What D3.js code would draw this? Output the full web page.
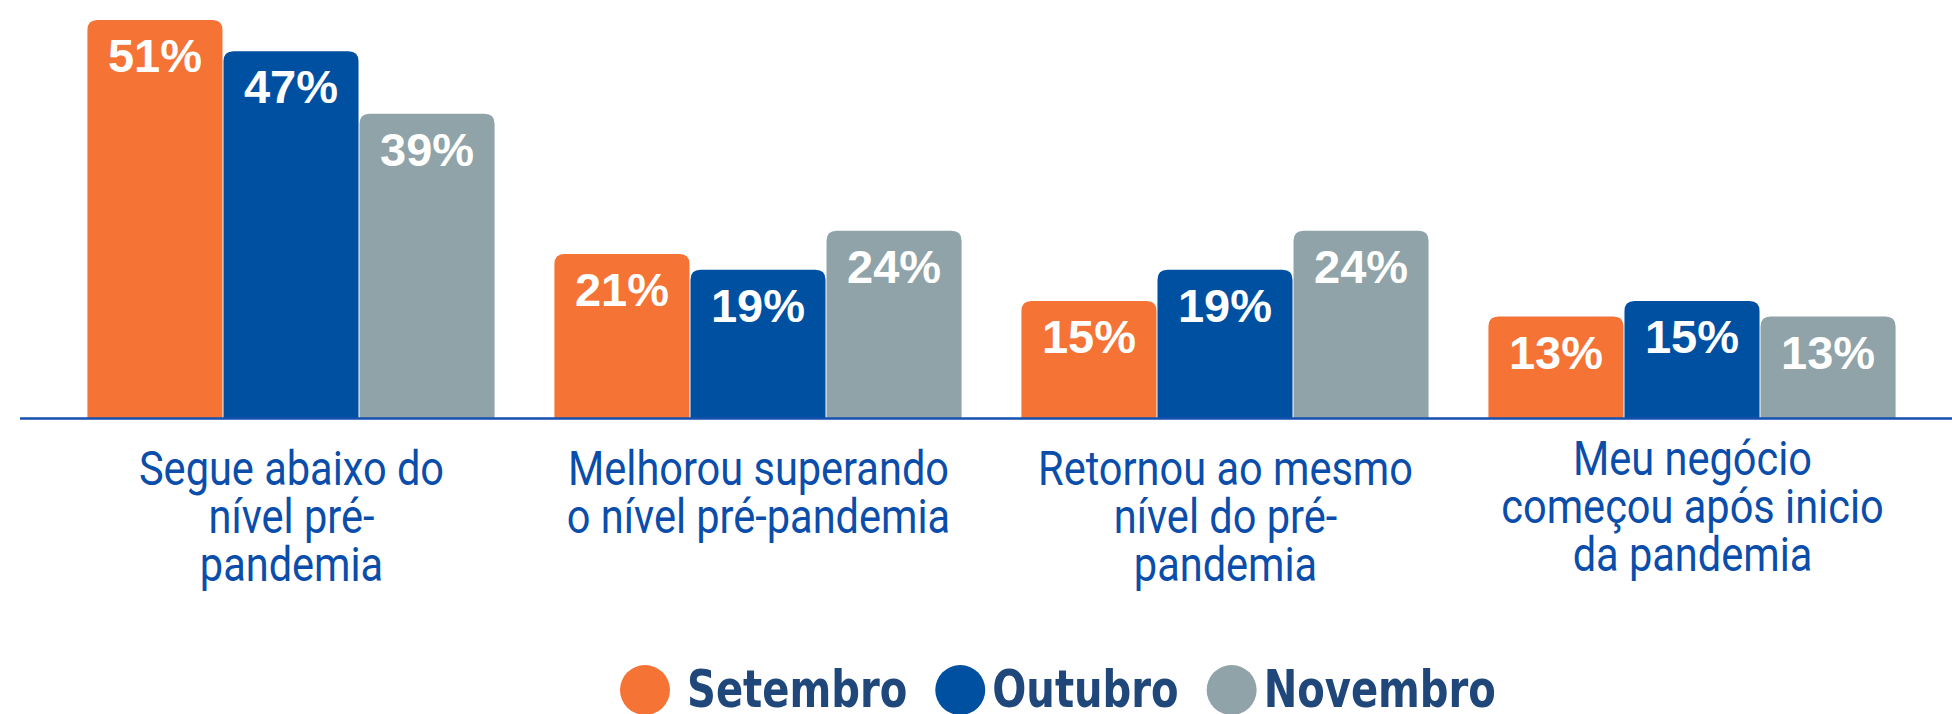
<!DOCTYPE html>
<html>
<head>
<meta charset="utf-8">
<script src="https://cdn.jsdelivr.net/npm/d3@7"></script>
<style>
  html, body { margin: 0; padding: 0; background: #fff; }
  svg { display: block; }
</style>
</head>
<body>
<div id="chart"></div>
<script>
// Data
const categories = [
  ['Segue abaixo do', 'nível pré-', 'pandemia'],
  ['Melhorou superando', 'o nível pré-pandemia'],
  ['Retornou ao mesmo', 'nível do pré-', 'pandemia'],
  ['Meu negócio', 'começou após inicio', 'da pandemia']
];
const seriesNames = ['Setembro', 'Outubro', 'Novembro'];
const setembro = [51, 21, 15, 13];
const outubro = [47, 19, 19, 15];
const novembro = [39, 24, 24, 13];

const seriesValues = [setembro, outubro, novembro];
const colors = ['#f47335', '#0050a2', '#8fa3a8'];

const width = 1952;
const height = 714;
const baseline = 418;

const svg = d3.select('#chart')
  .append('svg')
  .attr('width', width)
  .attr('height', height);

// Scales
const x0 = d3.scaleBand()
  .domain(d3.range(categories.length))
  .range([58, 1926])
  .paddingInner(0.126)
  .paddingOuter(0.063);

const x1 = d3.scaleBand()
  .domain(d3.range(seriesNames.length))
  .range([0, x0.bandwidth()]);

const y = d3.scaleLinear()
  .domain([0, 51])
  .range([baseline, 20]);

// Bar with rounded top corners
function topRoundedRect(x, y0, w, h, r) {
  r = Math.min(r, h, w / 2);
  return `M${x},${y0 + h}` +
    `V${y0 + r}` +
    `Q${x},${y0} ${x + r},${y0}` +
    `H${x + w - r}` +
    `Q${x + w},${y0} ${x + w},${y0 + r}` +
    `V${y0 + h}Z`;
}

const groups = svg.selectAll('g.group')
  .data(categories)
  .join('g')
  .attr('class', 'group')
  .attr('transform', (d, i) => `translate(${x0(i)},0)`);

groups.each(function (cat, ci) {
  const g = d3.select(this);
  seriesValues.forEach((vals, si) => {
    const v = vals[ci];
    const bx = x1(si);
    const bw = x1.bandwidth() - 1;
    g.append('path')
      .attr('d', topRoundedRect(bx, y(v), bw, baseline - y(v), 10))
      .attr('fill', colors[si]);
    g.append('text')
      .attr('x', bx + bw / 2)
      .attr('y', y(v) + 52)
      .attr('text-anchor', 'middle')
      .attr('font-family', '"Liberation Sans", Arial, sans-serif')
      .attr('font-weight', 'bold')
      .attr('font-size', 47)
      .attr('fill', '#fff')
      .text(v + '%');
  });
});

// Axis line
svg.append('line')
  .attr('x1', 20)
  .attr('x2', width)
  .attr('y1', baseline + 0.5)
  .attr('y2', baseline + 0.5)
  .attr('stroke', '#1650b0')
  .attr('stroke-width', 2.5);

// Category labels (condensed look)
const condense = 0.865;
groups.each(function (lines, ci) {
  const g = d3.select(this);
  const startY = ci === 3 ? 475 : 485;
  lines.forEach((line, li) => {
    const t = g.append('text')
      .attr('x', x0.bandwidth() / 2)
      .attr('y', startY + li * 48)
      .attr('text-anchor', 'middle')
      .attr('font-family', 'Roboto, sans-serif')
      .attr('font-size', 48)
      .attr('fill', '#0a4daa')
      .text(line);
    const w = t.node().getComputedTextLength();
    t.attr('textLength', w * condense).attr('lengthAdjust', 'spacingAndGlyphs');
  });
});

// Legend
const legendCondense = 0.857;
const legend = svg.append('g').attr('transform', 'translate(620,690)');
let lx = 0;
seriesNames.forEach((name, i) => {
  legend.append('circle')
    .attr('cx', lx + 25)
    .attr('cy', 0)
    .attr('r', 25)
    .attr('fill', colors[i]);
  const gap = i === 0 ? 17 : 7;
  const t = legend.append('text')
    .attr('x', lx + 50 + gap)
    .attr('y', 17)
    .attr('font-family', '"DejaVu Sans Condensed", sans-serif')
    .attr('font-weight', 'bold')
    .attr('font-size', 52)
    .attr('fill', '#1f477a')
    .text(name);
  const w = t.node().getComputedTextLength() * legendCondense;
  t.attr('textLength', w).attr('lengthAdjust', 'spacingAndGlyphs');
  lx += 50 + gap + w + 28;
});
</script>
</body>
</html>
